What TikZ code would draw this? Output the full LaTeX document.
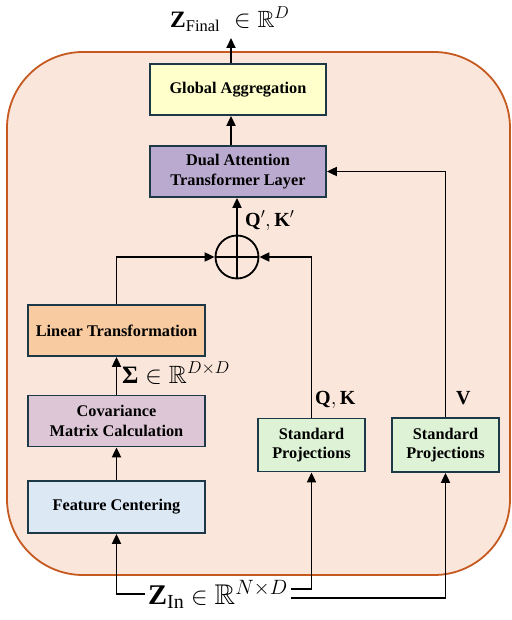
\documentclass[tikz,border=0pt]{standalone}
\usepackage{amssymb}
\usepackage{fontspec}
\setmainfont{Liberation Serif}
\usetikzlibrary{arrows.meta}

\definecolor{panelfill}{HTML}{FAE6DB}
\definecolor{panelline}{HTML}{C5591F}
\definecolor{boxline}{HTML}{1D3947}
\definecolor{aggfill}{HTML}{FFFFCC}
\definecolor{attnfill}{HTML}{BBAACF}
\definecolor{linfill}{HTML}{F8CBA1}
\definecolor{covfill}{HTML}{DDC7D7}
\definecolor{centfill}{HTML}{DCE9F5}
\definecolor{projfill}{HTML}{DEF2D5}

\tikzset{
  block/.style={draw=boxline, line width=1.8pt, align=center, inner sep=0pt,
    font=\fontsize{16.3}{19.5}\selectfont\bfseries},
  flow/.style={line width=1.9pt, -{Triangle[length=10pt,width=9pt]}},
  mathlbl/.style={inner sep=0pt},
}

\begin{document}
\begin{tikzpicture}[x=1pt,y=-1pt]
  \useasboundingbox (0,0) rectangle (511,620);

  % outer panel
  \draw[panelline, fill=panelfill, line width=1.8pt, rounded corners=76pt]
    (7,52) rectangle (510,575);

  % blocks
  \node[block, fill=aggfill, minimum width=176pt, minimum height=51pt] (agg) at (238,89.5) {Global Aggregation};
  \node[block, fill=attnfill, minimum width=176pt, minimum height=51pt] (attn) at (238,171.5) {Dual Attention\\Transformer Layer};
  \node[block, fill=linfill, minimum width=177pt, minimum height=51pt] (lin) at (116.5,330.5) {Linear Transformation};
  \node[block, fill=covfill, minimum width=177pt, minimum height=51pt] (cov) at (116.5,421) {Covariance\\Matrix Calculation};
  \node[block, fill=centfill, minimum width=177pt, minimum height=52pt] (cent) at (116.5,507) {Feature Centering};
  \node[block, fill=projfill, minimum width=107pt, minimum height=53pt] (sp1) at (311.5,445) {Standard\\Projections};
  \node[block, fill=projfill, minimum width=107pt, minimum height=54pt] (sp2) at (445.5,445) {Standard\\Projections};

  % fusion node
  \node[draw=black, line width=1.8pt, circle, minimum size=43pt, inner sep=0pt] (sum) at (237,257) {};
  \draw[line width=1.8pt] (sum.north) -- (sum.south) (sum.west) -- (sum.east);

  % labels
  \node[mathlbl, anchor=base west] (zfin) at (170,28) {\fontsize{23.5}{26}\selectfont$\mathbf{Z}_{\mathrm{Final}}\;\in\mathbb{R}^{D}$};
  \coordinate (top) at (231,38);
  \node[mathlbl, anchor=base west] (qk1) at (245,226) {\fontsize{20}{24}\selectfont$\mathbf{Q}^{\prime},\mathbf{K}^{\prime}$};
  \node[mathlbl, anchor=base west] (sig) at (122,383) {\fontsize{25}{28}\selectfont$\textbf{Σ}\in\mathbb{R}^{D\times D}$};
  \node[mathlbl, anchor=base west] (qk) at (315,404) {\fontsize{20}{24}\selectfont$\mathbf{Q},\mathbf{K}$};
  \node[mathlbl, anchor=base west] (vl) at (456,404) {\fontsize{20}{24}\selectfont$\mathbf{V}$};
  \node[mathlbl, anchor=base, inner xsep=3pt] (zin) at (218,604) {\fontsize{28.5}{32}\selectfont$\mathbf{Z}_{\mathrm{In}}\in\mathbb{R}^{N\times D}$};

  % connectors
  \draw[flow] (top |- agg.north) -- (top);
  \draw[flow] (top |- attn.north) -- (top |- agg.south);
  \draw[flow] (sum.north) -- (sum.north |- attn.south);
  \draw[flow] (lin.north) |- (sum.west);
  \draw[flow] (sp1.north) |- (sum.east);
  \draw[flow] (sp2.north) |- (attn.east);
  \draw[flow] (cov.north) -- (lin.south);
  \draw[flow] (cent.north) -- (cov.south);
  \draw[flow] (zin.west |- 0,594) -| (cent.south);
  \draw[flow] (zin.east |- 0,589) -| (sp1.south);
  \draw[flow] (zin.east |- 0,598) -| (sp2.south);
\end{tikzpicture}
\end{document}
